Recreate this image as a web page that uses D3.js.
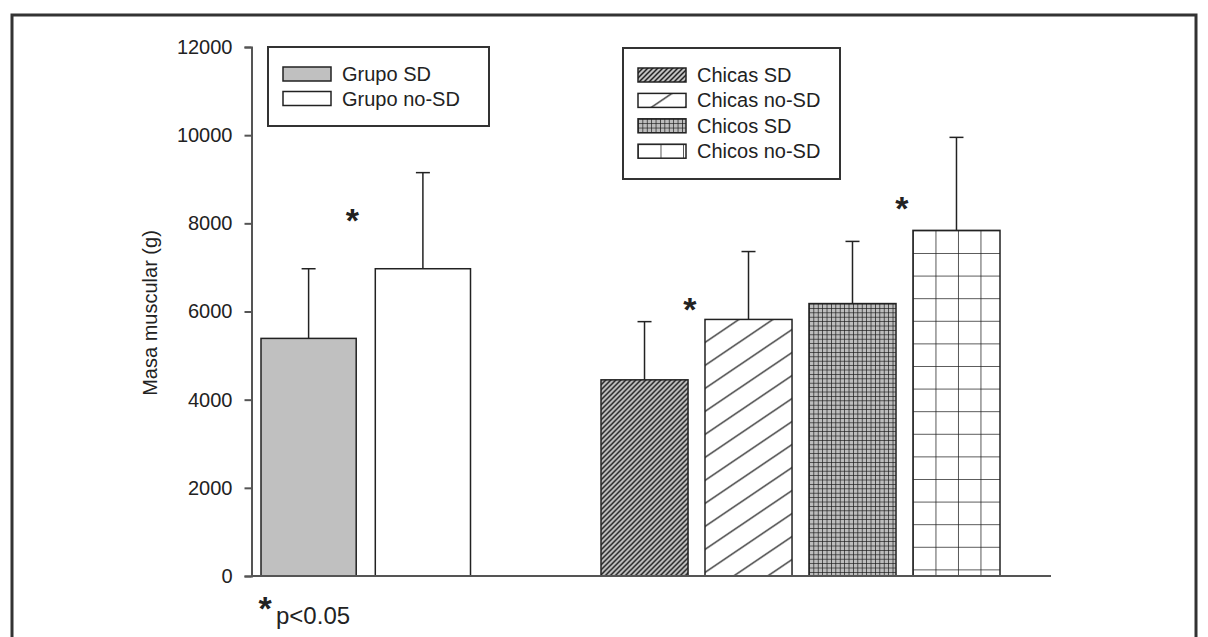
<!DOCTYPE html>
<html>
<head>
<meta charset="utf-8">
<script src="https://cdn.jsdelivr.net/npm/d3@7"></script>
<style>
body { margin: 0; background: #fff; }
svg text { font-family: "Liberation Sans", Arial, sans-serif; fill: #222; }
</style>
</head>
<body>
<svg id="chart" width="1208" height="637"></svg>
<script>
// Masa muscular (g): means and SD
const groupCategories = ['Grupo SD', 'Grupo no-SD'];
const groupMeans = [5390, 6970];
const groupSD = [1580, 2180];

const sexCategories = ['Chicas SD', 'Chicas no-SD', 'Chicos SD', 'Chicos no-SD'];
const sexMeans = [4450, 5820, 6180, 7840];
const sexSD = [1320, 1540, 1410, 2110];

const yTicks = [0, 2000, 4000, 6000, 8000, 10000, 12000];

// significance stars: the bar they belong to and their height (g)
const starCategories = ['Grupo no-SD', 'Chicas no-SD', 'Chicos no-SD'];
const starValues = [8250, 6230, 8520];
const starNudge = [-23, -15, -11];

// fill style of each category
const fillKinds = {
    'Grupo SD': 'gray',
    'Grupo no-SD': 'white',
    'Chicas SD': 'hatchDense',
    'Chicas no-SD': 'hatchSparse',
    'Chicos SD': 'gridDense',
    'Chicos no-SD': 'gridSparse'
};

const svg = d3.select('#chart');
const defs = svg.append('defs');

const ink = '#222';
const axisColor = '#555';

// outer frame
svg.append('rect')
    .attr('x', 12).attr('y', 15)
    .attr('width', 1184).attr('height', 640)
    .attr('fill', 'none')
    .attr('stroke', '#333')
    .attr('stroke-width', 3);

const y = d3.scaleLinear().domain([0, 12000]).range([576, 47]);

const xLeft = d3.scaleBand()
    .domain(groupCategories)
    .range([261, 470.5])
    .paddingInner(0.167)
    .paddingOuter(0);

const xRight = d3.scaleBand()
    .domain(sexCategories)
    .range([601, 1000])
    .paddingInner(0.163)
    .paddingOuter(0);

/**
 * Build a fill for a kind; patterns are anchored at (x0, y0) so the
 * grid starts at the top-left corner of the shape, like the original.
 */
function makeFill(kind, id, x0, y0) {
    if (kind === 'gray') return '#c0c0c0';
    if (kind === 'white') return '#fff';

    var p = defs.append('pattern')
        .attr('id', id)
        .attr('patternUnits', 'userSpaceOnUse')
        .attr('x', x0)
        .attr('y', y0);

    if (kind === 'hatchDense') {
        var s = 5;
        p.attr('width', s).attr('height', s);
        p.append('rect').attr('width', s).attr('height', s).attr('fill', '#c0c0c0');
        p.append('path')
            .attr('d', 'M-1,1 L1,-1 M0,' + s + ' L' + s + ',0 M' + (s - 1) + ',' + (s + 1) + ' L' + (s + 1) + ',' + (s - 1))
            .attr('stroke', ink).attr('stroke-width', 1.5);
    } else if (kind === 'hatchSparse') {
        var w = 34, h = 23;
        p.attr('width', w).attr('height', h);
        p.append('rect').attr('width', w).attr('height', h).attr('fill', '#fff');
        p.append('path')
            .attr('d', 'M' + (-w / 2) + ',' + (h / 2) + ' L' + (w / 2) + ',' + (-h / 2)
                + ' M0,' + h + ' L' + w + ',0'
                + ' M' + (w / 2) + ',' + (h * 1.5) + ' L' + (w * 1.5) + ',' + (h / 2))
            .attr('stroke', ink).attr('stroke-width', 1.3);
    } else if (kind === 'gridDense') {
        var c = 4.4;
        p.attr('width', c).attr('height', c);
        p.append('rect').attr('width', c).attr('height', c).attr('fill', '#bdbdbd');
        p.append('path')
            .attr('d', 'M0,0 H' + c + ' M0,0 V' + c)
            .attr('stroke', '#1a1a1a').attr('stroke-width', 1.4);
    } else if (kind === 'gridSparse') {
        var gw = 22.5, gh = 22.6;
        p.attr('width', gw).attr('height', gh);
        p.append('rect').attr('width', gw).attr('height', gh).attr('fill', '#fff');
        p.append('path')
            .attr('d', 'M0,0 H' + gw + ' M0,0 V' + gh)
            .attr('stroke', ink).attr('stroke-width', 1.5);
    }
    return 'url(#' + id + ')';
}

// bars + error bars
function drawBars(categories, means, sds, x, prefix) {
    var rows = categories.map(function (c, i) {
        return {cat: c, mean: means[i], sd: sds[i], i: i};
    });
    var g = svg.append('g');

    g.selectAll('line.err')
        .data(rows)
        .join('line')
        .attr('class', 'err')
        .attr('x1', d => x(d.cat) + x.bandwidth() / 2)
        .attr('x2', d => x(d.cat) + x.bandwidth() / 2)
        .attr('y1', d => y(d.mean))
        .attr('y2', d => y(d.mean + d.sd))
        .attr('stroke', ink).attr('stroke-width', 1.5);

    g.selectAll('line.cap')
        .data(rows)
        .join('line')
        .attr('class', 'cap')
        .attr('x1', d => x(d.cat) + x.bandwidth() / 2 - 7)
        .attr('x2', d => x(d.cat) + x.bandwidth() / 2 + 7)
        .attr('y1', d => y(d.mean + d.sd))
        .attr('y2', d => y(d.mean + d.sd))
        .attr('stroke', ink).attr('stroke-width', 1.5);

    g.selectAll('rect.bar')
        .data(rows)
        .join('rect')
        .attr('class', 'bar')
        .attr('x', d => x(d.cat))
        .attr('y', d => y(d.mean))
        .attr('width', x.bandwidth())
        .attr('height', d => y(0) - y(d.mean))
        .attr('fill', d => makeFill(fillKinds[d.cat], prefix + d.i, x(d.cat), y(d.mean)))
        .attr('stroke', ink)
        .attr('stroke-width', 1.5);
}

drawBars(groupCategories, groupMeans, groupSD, xLeft, 'patL');
drawBars(sexCategories, sexMeans, sexSD, xRight, 'patR');

// y axis
var yAxis = svg.append('g')
    .attr('transform', 'translate(251.5,0)')
    .call(d3.axisLeft(y).tickValues(yTicks).tickSize(7).tickPadding(12).tickFormat(d3.format('d')));
yAxis.select('.domain').attr('stroke', axisColor).attr('stroke-width', 2);
yAxis.selectAll('.tick line').attr('stroke', axisColor).attr('stroke-width', 2);
yAxis.selectAll('.tick text')
    .attr('font-size', 20)
    .attr('fill', '#222')
    .style('font-family', '"Liberation Sans", Arial, sans-serif');

// x axis: plain baseline
svg.append('line')
    .attr('x1', 251).attr('x2', 1051)
    .attr('y1', y(0)).attr('y2', y(0))
    .attr('stroke', axisColor).attr('stroke-width', 2);

svg.append('text')
    .attr('transform', 'translate(157,313) rotate(-90)')
    .attr('text-anchor', 'middle')
    .attr('font-size', 20)
    .text('Masa muscular (g)');

// significance stars
starCategories.forEach(function (c, i) {
    var x = xLeft.domain().includes(c) ? xLeft : xRight;
    svg.append('text')
        .attr('x', x(c) + starNudge[i])
        .attr('y', y(starValues[i]) + 20)
        .attr('text-anchor', 'middle')
        .attr('font-size', 34)
        .attr('font-weight', 'bold')
        .text('*');
});

svg.append('text')
    .attr('x', 265).attr('y', 620)
    .attr('text-anchor', 'middle')
    .attr('font-size', 34)
    .attr('font-weight', 'bold')
    .text('*');
svg.append('text')
    .attr('x', 276).attr('y', 624)
    .attr('font-size', 24)
    .text('p<0.05');

/**
 * Draw a framed legend box with swatches on the left.
 */
function drawLegend(categories, box, prefix) {
    var g = svg.append('g');
    g.append('rect')
        .attr('x', box.x).attr('y', box.y)
        .attr('width', box.w).attr('height', box.h)
        .attr('fill', '#fff')
        .attr('stroke', '#333')
        .attr('stroke-width', 2);

    categories.forEach(function (c, i) {
        var sx = box.x + 15;
        var sy = box.y + 20 + i * box.step;
        g.append('rect')
            .attr('x', sx).attr('y', sy)
            .attr('width', 48).attr('height', 14)
            .attr('fill', makeFill(fillKinds[c], prefix + i, sx, sy))
            .attr('stroke', ink)
            .attr('stroke-width', 1.5);
        g.append('text')
            .attr('x', sx + 59)
            .attr('y', sy + 14)
            .attr('font-size', 20)
            .text(c);
    });
}

drawLegend(groupCategories, {x: 268, y: 47, w: 221, h: 79, step: 24.5}, 'legL');
drawLegend(sexCategories, {x: 623, y: 48, w: 217, h: 131, step: 25.4}, 'legR');
</script>
</body>
</html>
